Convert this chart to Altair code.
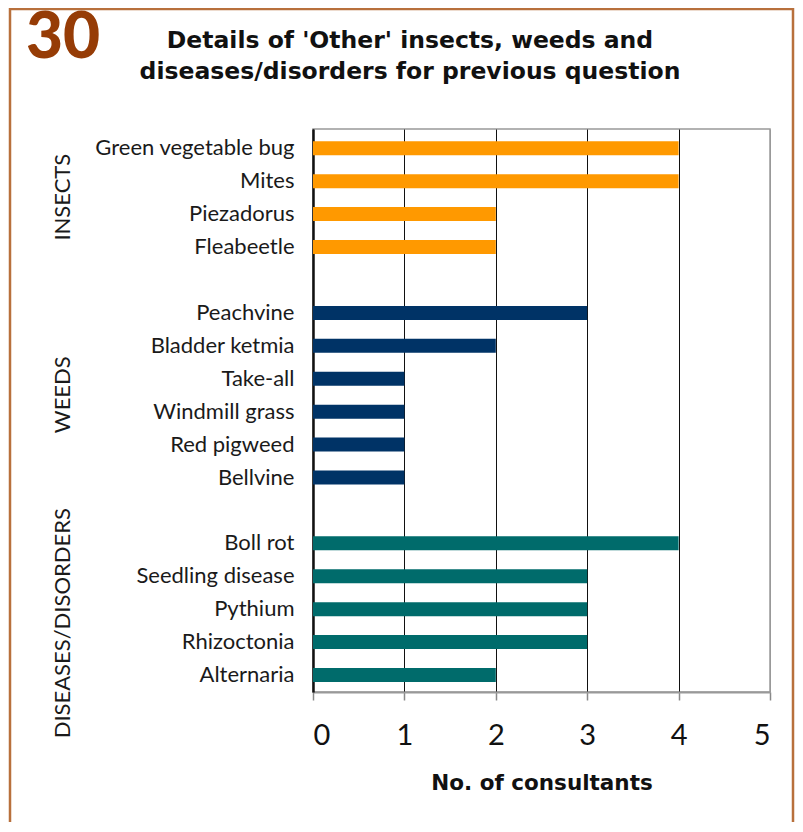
import altair as alt
import pandas as pd

items = ["Green vegetable bug", "Mites", "Piezadorus", "Fleabeetle", " ",
         "Peachvine", "Bladder ketmia", "Take-all", "Windmill grass", "Red pigweed", "Bellvine", "  ",
         "Boll rot", "Seedling disease", "Pythium", "Rhizoctonia", "Alternaria"]
values = [4, 4, 2, 2, None,
          3, 2, 1, 1, 1, 1, None,
          4, 3, 3, 3, 2]
groups = ["Insects"] * 5 + ["Weeds"] * 7 + ["Diseases"] * 5
group_names = ["Insects", "Weeds", "Diseases"]
group_colors = ["#FF9900", "#003366", "#006B6B"]
group_labels = ["INSECTS", "WEEDS", "DISEASES/DISORDERS"]
group_anchor = ["Mites", "Take-all", "Pythium"]
group_shift = [-16, -16, -14]

FONT = "Lato"
BOLD = "DejaVu Sans"

rows = [dict(item=i, value=v, group=g) for i, v, g in zip(items, values, groups) if v is not None]
df = pd.DataFrame(rows)

yscale = alt.Scale(domain=items, paddingInner=0, paddingOuter=0.05, align=0.85)

bars = alt.Chart(df).mark_bar(size=14).encode(
    x=alt.X("value:Q", scale=alt.Scale(domain=[0, 5]),
            axis=alt.Axis(values=[0, 1, 2, 3, 4, 5], title="No. of consultants",
                          grid=True,
                          gridColor={"condition": {"test": "datum.value == 5", "value": "#999999"}, "value": "#111111"},
                          gridWidth=1,
                          domainColor="#999999", domainWidth=2,
                          tickColor="#888888", tickSize=8, tickWidth=1.5,
                          labelFontSize=29, labelPadding=21, labelColor="#111111",
                          labelFont=FONT,
                          titleFont=BOLD, titleFontSize=21.5, titleFontWeight="bold",
                          titleColor="#111111", titlePadding=22)),
    y=alt.Y("item:N", sort=items, scale=yscale,
            axis=alt.Axis(title=None, ticks=False, domainColor="#111111", domainWidth=2.5,
                          labelFontSize=22, labelFont=FONT, labelColor="#1a1a1a",
                          labelPadding=19, labelLimit=300)),
    color=alt.Color("group:N", scale=alt.Scale(domain=group_names, range=group_colors), legend=None),
)

gl = pd.DataFrame({"item": group_anchor, "label": group_labels, "shift": group_shift})

# group labels, shifted down between rows (dx in rotated frame)
glabels = alt.layer(*[
    alt.Chart(gl.iloc[[k]]).mark_text(angle=270, fontSize=22, font=FONT, color="#1a1a1a",
                                      align="center", baseline="middle", dx=group_shift[k]).encode(
        x=alt.value(-250),
        y=alt.Y("item:N", sort=items, scale=yscale),
        text="label:N",
    ) for k in range(3)
])

one = alt.Data(values=[{"a": 1}])
border = alt.Chart(one).mark_rect(filled=False, stroke="#B8703C", strokeWidth=2.5).encode(
    x=alt.value(-303), x2=alt.value(480), y=alt.value(-120), y2=alt.value(900)
)
num = alt.Chart(one).mark_text(text="30", fontSize=64, fontWeight=900, font=FONT, color="#963C06",
                               align="left", baseline="alphabetic").encode(
    x=alt.value(-287), y=alt.value(-71)
)
t1 = alt.Chart(one).mark_text(text="Details of 'Other' insects, weeds and", fontSize=23.5, fontWeight="bold",
                              font=BOLD, color="#111111", align="center", baseline="alphabetic").encode(
    x=alt.value(97), y=alt.value(-81)
)
t2 = alt.Chart(one).mark_text(text="diseases/disorders for previous question", fontSize=23.5, fontWeight="bold",
                              font=BOLD, color="#111111", align="center", baseline="alphabetic").encode(
    x=alt.value(97), y=alt.value(-50)
)

chart = alt.layer(border, bars, glabels, num, t1, t2).properties(
    width=457, height=563,
    autosize=alt.AutoSizeParams(type="none"),
    padding={"left": 305, "top": 121, "right": 25, "bottom": 130},
    background="white",
).configure_view(stroke="#999999", strokeWidth=1.5)

chart.save("out.html", embed_options={"renderer": "svg", "actions": False})
